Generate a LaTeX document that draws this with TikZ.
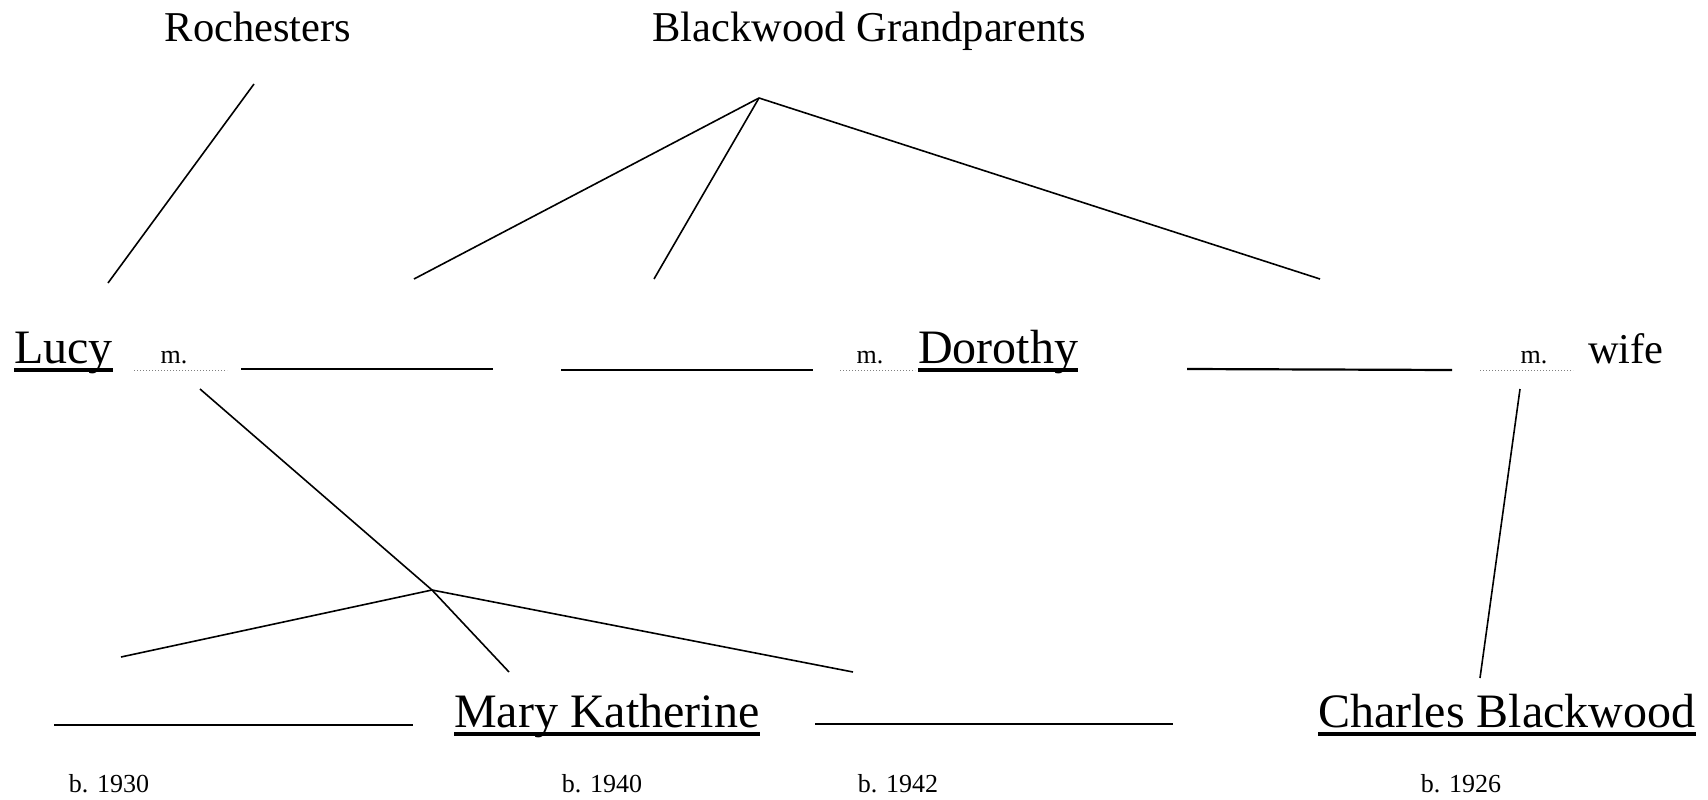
\documentclass[tikz,border=0pt]{standalone}
\usepackage{fontspec}
\setmainfont{Liberation Serif}
\begin{document}
\begin{tikzpicture}[x=1pt,y=-1pt,
  person/.style={font=\fontsize{48}{56}\selectfont, inner sep=0pt, anchor=base west},
  toplabel/.style={font=\fontsize{42.5}{50}\selectfont, inner sep=0pt, anchor=base},
  small/.style={font=\fontsize{26}{30}\selectfont, inner sep=0pt, anchor=base},
  link/.style={line width=1.6pt, line join=round},
  blank/.style={line width=2.2pt},
  uline/.style={line width=3.2pt},
  marr/.style={gray, dotted, line width=1pt}]
\useasboundingbox (0,0) rectangle (1708,800);

% top labels
\node[toplabel] (roch) at (258,42) {Rochesters};
\node[toplabel] (bgp) at (869,42) {Blackwood Grandparents};

% middle row
\node[person] (lucy) at (14,363) {Lucy};
\node[small] (m1) at (174,363) {m.};
\node[person] (dorothy) at (918,363) {Dorothy};
\node[small] (m2) at (870,363) {m.};
\node[small] (m3) at (1534,363) {m.};
\node[person, font=\fontsize{42.5}{50}\selectfont] (wife) at (1588,363) {wife};

% bottom row
\node[person] (mary) at (454,727) {Mary Katherine};
\node[person] (charles) at (1318,727) {Charles Blackwood};
\node[small] (y1) at (109,792) {b. 1930};
\node[small] (y2) at (602,792) {b. 1940};
\node[small] (y3) at (898,792) {b. 1942};
\node[small] (y4) at (1461,792) {b. 1926};

% underlines
\foreach \n in {lucy,dorothy,mary,charles}
  \draw[uline] ([yshift=-7pt]\n.base west) -- ([yshift=-7pt]\n.base east);

% marriage dotted lines
\coordinate (d1a) at (134,370); \coordinate (d1b) at (227,370);
\coordinate (d2a) at (840,370); \coordinate (d2b) at (915,370);
\coordinate (d3a) at (1480,370); \coordinate (d3b) at (1573,370);
\draw[marr] (d1a) -- (d1b);
\draw[marr] (d2a) -- (d2b);
\draw[marr] (d3a) -- (d3b);

% blanks
\coordinate (b1a) at (241,369); \coordinate (b1b) at (493,369);
\coordinate (b2a) at (561,370); \coordinate (b2b) at (813,370);
\coordinate (b3a) at (1187,369); \coordinate (b3b) at (1452,370);
\coordinate (b4a) at (54,725); \coordinate (b4b) at (413,725);
\coordinate (b5a) at (815,724); \coordinate (b5b) at (1173,724);
\foreach \a/\b in {b1a/b1b,b2a/b2b,b3a/b3b,b4a/b4b,b5a/b5b}
  \draw[blank] (\a) -- (\b);

% connectors
\coordinate (rochEnd) at (254,84);
\coordinate (lucyTop) at (108,283);
\draw[link] (rochEnd) -- (lucyTop);

\coordinate (apex1) at (759,98);
\coordinate (c1) at (414,279);
\coordinate (c2) at (654,279);
\coordinate (c3) at (1320,279);
\draw[link] (apex1) -- (c1);
\draw[link] (apex1) -- (c2);
\draw[link] (apex1) -- (c3);

\coordinate (lucyM) at (200,389);
\coordinate (apex2) at (432,590);
\coordinate (maryTop) at (509,672);
\draw[link] (lucyM) -- (apex2) -- (maryTop);

\coordinate (k1) at (121,657);
\coordinate (k2) at (853,672);
\draw[link] (apex2) -- (k1);
\draw[link] (apex2) -- (k2);

\coordinate (wifeM) at (1520,389);
\coordinate (charlesTop) at (1480,678);
\draw[link] (wifeM) -- (charlesTop);
\end{tikzpicture}
\end{document}
